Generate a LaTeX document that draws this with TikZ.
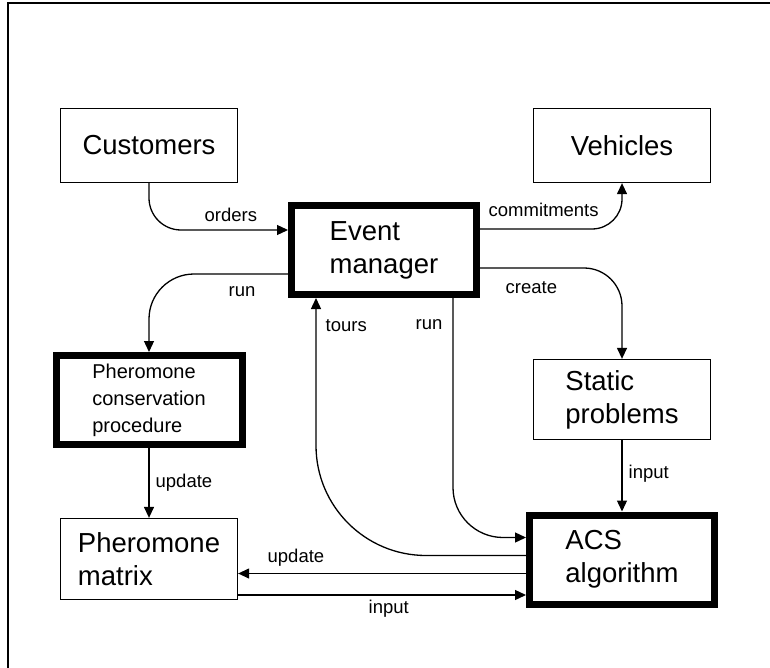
\documentclass[tikz,border=0pt]{standalone}
\usepackage{fontspec}
\setmainfont{Liberation Sans}
\usetikzlibrary{arrows.meta,positioning}

\begin{document}
\begin{tikzpicture}[x=1pt, y=1pt, line width=1.3pt,
                    >={Triangle[length=11pt,width=10pt]},
                    plain box/.style={draw,line width=1.3pt,align=left,inner sep=0pt,
                                      minimum width=177pt,minimum height=74pt,
                                      font=\fontsize{27.5}{33}\selectfont},
                    heavy box/.style={plain box,line width=7pt,
                                      minimum width=185pt,minimum height=89pt},
                    tag/.style={anchor=base west,inner sep=0pt,
                                font=\fontsize{18.5}{22}\selectfont}]

  \useasboundingbox[fill=white] (0,0) rectangle (770,-668);
  \draw[line width=1.5pt] (8,-668) -- (8,-3) -- (770,-3);

  % boxes
  \node[plain box] (cust) at (149,-145.5) {Customers};
  \node[plain box] (veh) [node distance=473pt, right of=cust] {Vehicles};
  \node[heavy box] (evt) at (384,-250) {Event\\manager};
  \node[heavy box] (pcp) [node distance=254.5pt, below of=cust,
        minimum width=186pt, font=\fontsize{20}{27}\selectfont]
        {Pheromone\\conservation\\procedure};
  \node[plain box] (sp) [node distance=254pt, below of=veh, minimum height=80pt] {Static\\problems};
  \node[plain box] (pm) [node distance=159pt, below of=pcp, minimum height=81pt] {Pheromone\\matrix};
  \node[heavy box] (acs) [node distance=160pt, below of=sp] {ACS\\algorithm};

  % connectors
  \draw[->, rounded corners=32pt] (cust.south) |- ([yshift=20pt]evt.west);
  \draw[->, rounded corners=30pt] ([yshift=21pt]evt.east) -| (veh.south);
  \draw[->, rounded corners=45pt] ([yshift=-24pt]evt.west) -| (pcp.north);
  \draw[->, rounded corners=38pt] ([yshift=-18pt]evt.east) -| (sp.north);
  \draw[->, rounded corners=110pt] ([yshift=4pt]acs.west) -| ([xshift=-68pt]evt.south);
  \draw[->, rounded corners=50pt] ([xshift=69pt]evt.south) |- ([yshift=22pt]acs.west);
  \draw[->] (pcp.south) -- (pcp.south |- pm.north);
  \draw[->] (sp.south) -- (sp.south |- acs.north);
  \draw[->] ([yshift=-14pt]acs.west) -- ([yshift=-14pt]acs.west -| pm.east);
  \draw[->] ([yshift=-36pt]pm.east) -- ([yshift=-36pt]pm.east -| acs.west);

  % labels
  \node[tag] (orders) at (204,-221.5) {orders};
  \node[tag] (commit) at (488,-217) {commitments};
  \node[tag] (runl) at (228,-296) {run};
  \node[tag] (create) at (505,-293) {create};
  \node[tag] (tours) at (325,-331) {tours};
  \node[tag] (runm) at (415,-329) {run};
  \node[tag] (updl) at (155,-487) {update};
  \node[tag] (inpr) at (628,-478) {input};
  \node[tag] (updb) at (267,-562) {update};
  \node[tag] (inpb) at (368,-613) {input};

\end{tikzpicture}
\end{document}
